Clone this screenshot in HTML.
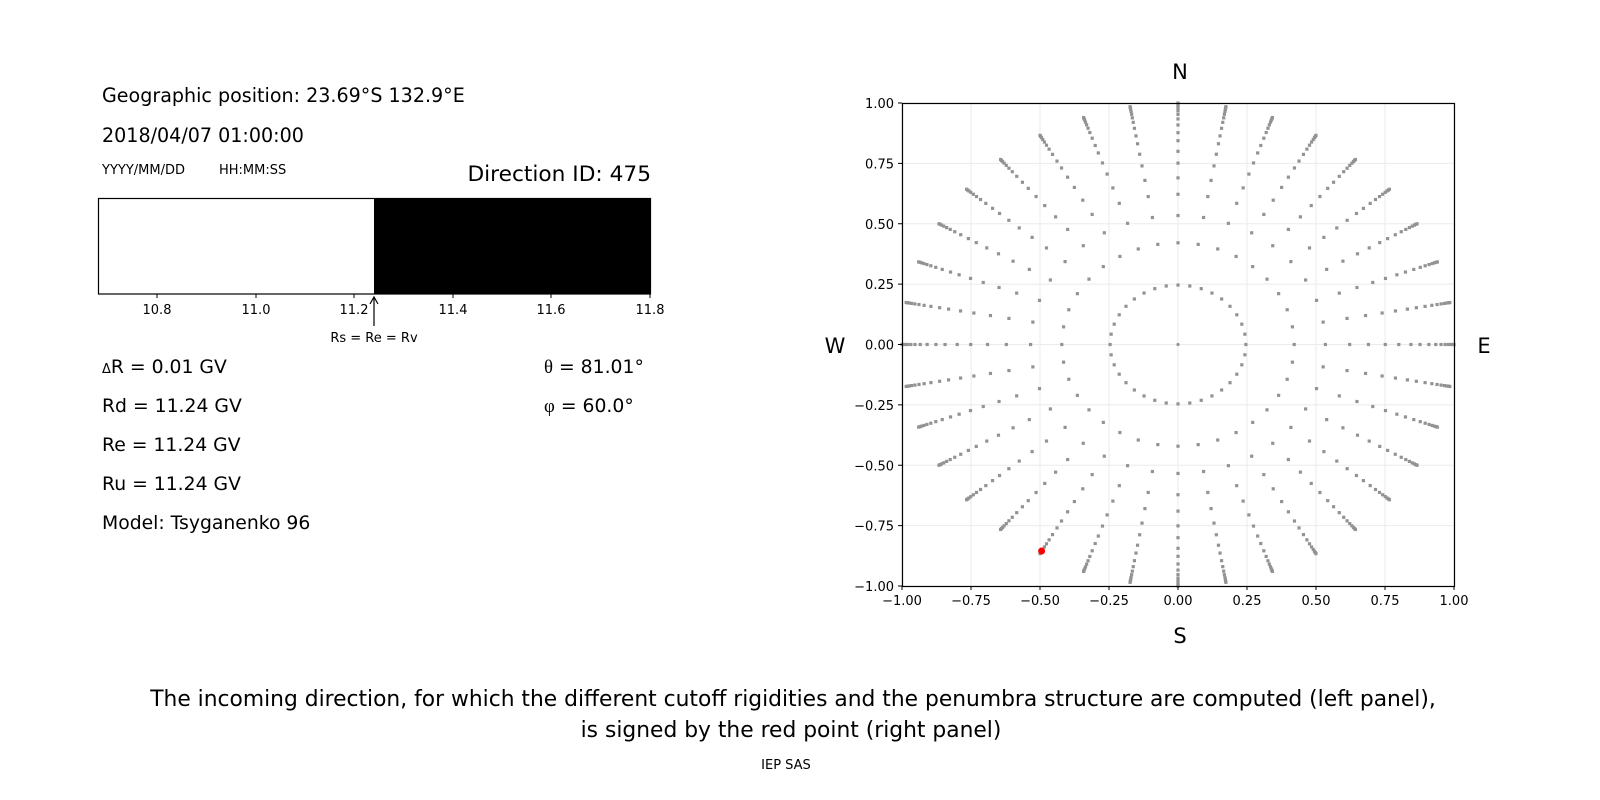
<!DOCTYPE html>
<html><head><meta charset="utf-8"><style>
body{margin:0;background:#fff}
svg{display:block;font-family:"DejaVu Sans","Liberation Sans",sans-serif}
</style></head><body>
<svg id="s" width="1600" height="800" viewBox="0 0 1600 800">
<text x="102" y="102" font-size="19.1">Geographic position: 23.69°S 132.9°E</text>
<text x="102" y="142" font-size="19.1">2018/04/07 01:00:00</text>
<text x="102" y="174" font-size="13">YYYY/MM/DD</text>
<text x="219" y="174" font-size="13">HH:MM:SS</text>
<text x="651" y="181" font-size="21.7" text-anchor="end">Direction ID: 475</text>
<rect x="374" y="198" width="277" height="96" fill="#000"/>
<rect x="98.5" y="198.5" width="552" height="95.5" fill="none" stroke="#000" stroke-width="1.2"/>
<g font-size="13" text-anchor="middle" stroke="#000">
<line x1="157" y1="294" x2="157" y2="298"/><line x1="256" y1="294" x2="256" y2="298"/><line x1="354" y1="294" x2="354" y2="298"/><line x1="453" y1="294" x2="453" y2="298"/><line x1="551" y1="294" x2="551" y2="298"/><line x1="650" y1="294" x2="650" y2="298"/>
</g>
<g font-size="13" text-anchor="middle">
<text x="157" y="314">10.8</text><text x="256" y="314">11.0</text><text x="354" y="314">11.2</text><text x="453" y="314">11.4</text><text x="551" y="314">11.6</text><text x="650" y="314">11.8</text>
</g>
<line x1="374" y1="298" x2="374" y2="326" stroke="#000" stroke-width="1.2"/>
<path d="M370 304 L374 297 L378 304" fill="none" stroke="#000" stroke-width="1.2"/>
<text x="374" y="342" font-size="13" text-anchor="middle">Rs = Re = Rv</text>
<g font-size="18.8">
<text x="102" y="373"><tspan font-size="13">Δ</tspan>R = 0.01 GV</text>
<text x="102" y="412">Rd = 11.24 GV</text>
<text x="102" y="451">Re = 11.24 GV</text>
<text x="102" y="490">Ru = 11.24 GV</text>
<text x="102" y="529">Model: Tsyganenko 96</text>
<text x="544" y="373"><tspan font-family="Liberation Serif,serif">θ</tspan> = 81.01°</text>
<text x="544" y="412"><tspan font-family="Liberation Serif,serif">φ</tspan> = 60.0°</text>
</g>
<g id="grid" stroke="#ebebeb" stroke-width="1"></g>
<g id="dots" fill="#939393"></g>
<circle cx="1041.6" cy="551" r="3.5" fill="#ff0000"/>
<rect x="902.5" y="103.5" width="552" height="483" fill="none" stroke="#000" stroke-width="1.2"/>
<g id="ticks" font-size="13"></g>
<g font-size="21" text-anchor="middle">
<text x="1180" y="79">N</text><text x="1180" y="643">S</text>
<text x="835" y="353">W</text><text x="1484" y="353">E</text>
</g>
<g font-size="21.8" text-anchor="middle">
<text x="793" y="706">The incoming direction, for which the different cutoff rigidities and the penumbra structure are computed (left panel),</text>
<text x="791" y="737">is signed by the red point (right panel)</text>
</g>
<text x="786" y="769" font-size="13" text-anchor="middle">IEP SAS</text>
</svg>
<script>
var NS="http://www.w3.org/2000/svg";
var x0=902,x1=1454,y0=103,y1=586,cx=(x0+x1)/2,cy=(y0+y1)/2,sx=(x1-x0)/2,sy=(y1-y0)/2;
function el(p,t,a){var e=document.createElementNS(NS,t);for(var k in a)e.setAttribute(k,a[k]);p.appendChild(e);return e;}
var g=document.getElementById('grid'),d=document.getElementById('dots'),tk=document.getElementById('ticks');
var labs=["−1.00","−0.75","−0.50","−0.25","0.00","0.25","0.50","0.75","1.00"];
for(var i=0;i<9;i++){var v=-1+i*0.25;var X=cx+v*sx,Y=cy-v*sy;
el(g,'line',{x1:X,y1:y0,x2:X,y2:y1});el(g,'line',{x1:x0,y1:Y,x2:x1,y2:Y});
el(tk,'line',{x1:X,y1:y1,x2:X,y2:y1+4,stroke:'#000'});el(tk,'line',{x1:x0-4,y1:Y,x2:x0,y2:Y,stroke:'#000'});
var t=el(tk,'text',{x:X,y:y1+19,'text-anchor':'middle'});t.textContent=labs[i];
var t2=el(tk,'text',{x:x0-8,y:Y+5,'text-anchor':'end'});t2.textContent=labs[i];}
var R=[0.246,0.421,0.534,0.622,0.690,0.751,0.800,0.844,0.877,0.909,0.934,0.953,0.968,0.980,0.989,0.995,1.0];
el(d,'circle',{cx:cx,cy:cy,r:1.6});
for(var a=0;a<36;a++){var th=a*10*Math.PI/180;for(var j=0;j<R.length;j++){
el(d,'rect',{x:cx+R[j]*Math.cos(th)*sx-1.6,y:cy-R[j]*Math.sin(th)*sy-1.6,width:3.2,height:3.2});}}
</script>
</body></html>
